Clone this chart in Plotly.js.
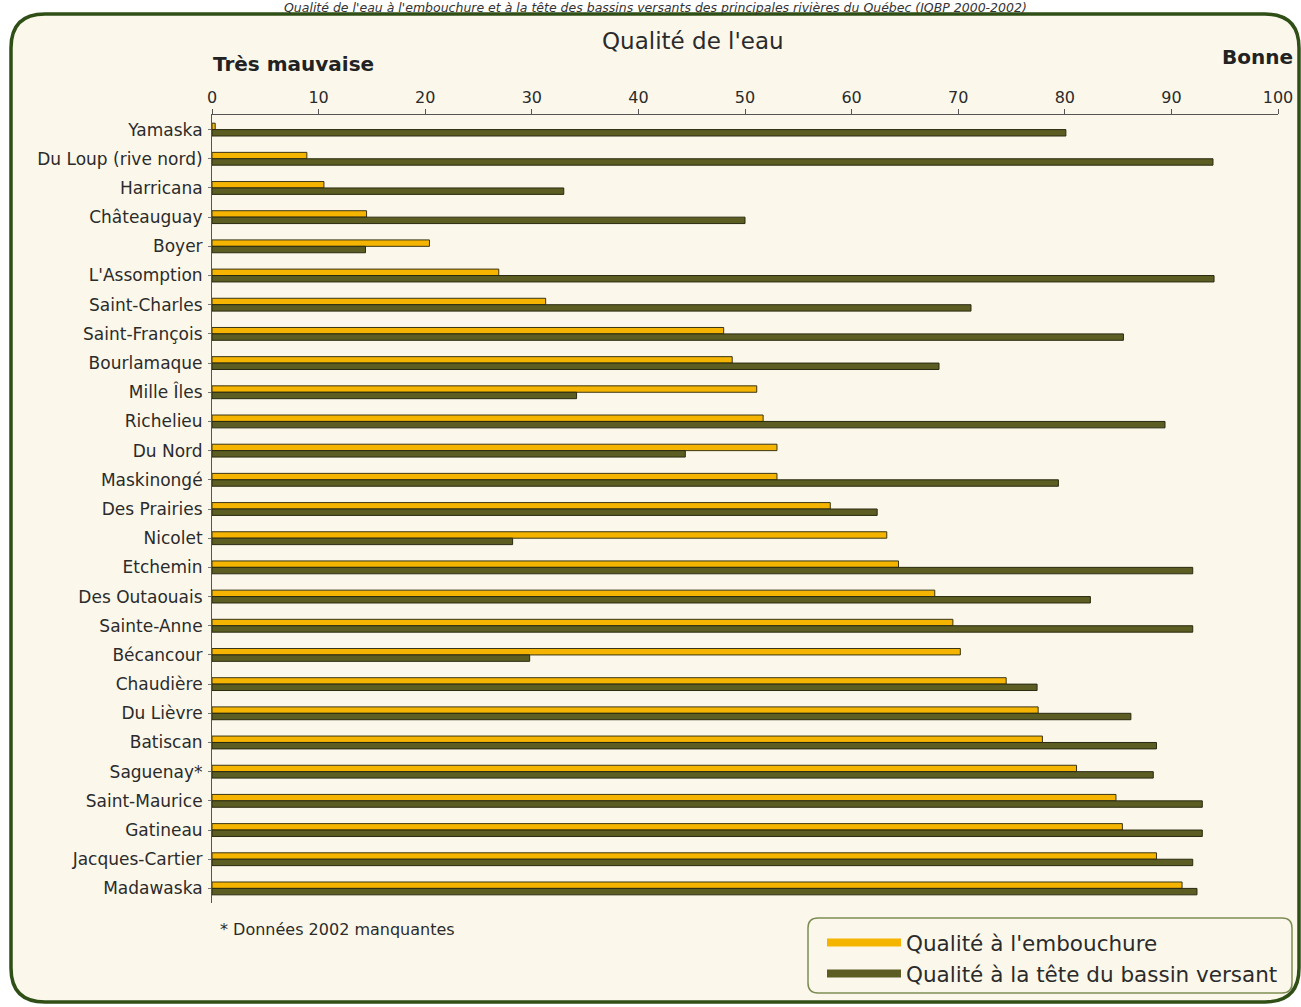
<!DOCTYPE html>
<html>
<head>
<meta charset="utf-8">
<script src="https://cdn.plot.ly/plotly-3.0.1.min.js"></script>
<style>html,body{margin:0;padding:0;background:#fff;}#chart{width:1301px;height:1007px;}</style>
</head>
<body>
<div id="chart"></div>
<script>
// ---- Data ----
const rivers = ["Yamaska","Du Loup (rive nord)","Harricana","Châteauguay","Boyer","L'Assomption","Saint-Charles","Saint-François","Bourlamaque","Mille Îles","Richelieu","Du Nord","Maskinongé","Des Prairies","Nicolet","Etchemin","Des Outaouais","Sainte-Anne","Bécancour","Chaudière","Du Lièvre","Batiscan","Saguenay*","Saint-Maurice","Gatineau","Jacques-Cartier","Madawaska"];
const qualiteEmbouchure = [0.3, 8.9, 10.5, 14.5, 20.4, 26.9, 31.3, 48.0, 48.8, 51.1, 51.7, 53.0, 53.0, 58.0, 63.3, 64.4, 67.8, 69.5, 70.2, 74.5, 77.5, 77.9, 81.1, 84.8, 85.4, 88.6, 91.0];
const qualiteTete = [80.1, 93.9, 33.0, 50.0, 14.4, 94.0, 71.2, 85.5, 68.2, 34.2, 89.4, 44.4, 79.4, 62.4, 28.2, 92.0, 82.4, 92.0, 29.8, 77.4, 86.2, 88.6, 88.3, 92.9, 92.9, 92.0, 92.4];
const seriesNames = ["Qualité à l'embouchure", "Qualité à la tête du bassin versant"];
const xTickVals = [0,10,20,30,40,50,60,70,80,90,100];

// ---- Layout geometry (pixels) ----
const W = 1301, H = 1007;
const M = {l: 212, r: 23, t: 115, b: 104};
const PW = W - M.l - M.r, PH = H - M.t - M.b;
const px = x => (x - M.l) / PW;
const py = y => (H - M.b - y) / PH;

function roundedRect(x0, y0, x1, y1, r) {
  const p = (x, y) => px(x).toFixed(5) + "," + py(y).toFixed(5);
  return "M" + p(x0 + r, y0) + " L" + p(x1 - r, y0) + " Q" + p(x1, y0) + " " + p(x1, y0 + r) +
         " L" + p(x1, y1 - r) + " Q" + p(x1, y1) + " " + p(x1 - r, y1) +
         " L" + p(x0 + r, y1) + " Q" + p(x0, y1) + " " + p(x0, y1 - r) +
         " L" + p(x0, y0 + r) + " Q" + p(x0, y0) + " " + p(x0 + r, y0) + " Z";
}

const FONT = "DejaVu Sans, Verdana, sans-serif";
const TXT = "#2b2b2b";
const YELLOW = "#f5b400", OLIVE = "#5b5d22";

const traces = [
  {type: "bar", orientation: "h", y: rivers, x: qualiteEmbouchure, name: seriesNames[0],
   marker: {color: YELLOW, line: {color: "#3a3514", width: 1}}, showlegend: false, hoverinfo: "x+y"},
  {type: "bar", orientation: "h", y: rivers, x: qualiteTete, name: seriesNames[1],
   marker: {color: OLIVE, line: {color: "#2a2a10", width: 1}}, showlegend: false, hoverinfo: "x+y"},
  {type: "scatter", mode: "lines", x: [null], y: [null], name: seriesNames[0],
   line: {color: YELLOW, width: 8}, showlegend: true, hoverinfo: "skip"},
  {type: "scatter", mode: "lines", x: [null], y: [null], name: seriesNames[1],
   line: {color: OLIVE, width: 8}, showlegend: true, hoverinfo: "skip"}
];

const layout = {
  width: W, height: H,
  margin: M,
  paper_bgcolor: "#ffffff",
  plot_bgcolor: "rgba(0,0,0,0)",
  barmode: "group",
  bargap: 0.56,
  bargroupgap: 0,
  font: {family: FONT, color: TXT, size: 16},
  showlegend: true,
  legend: {
    x: px(822), y: py(922), xanchor: "left", yanchor: "top",
    bgcolor: "rgba(0,0,0,0)", borderwidth: 0,
    font: {family: FONT, size: 21.5, color: TXT},
    itemwidth: 74, tracegroupgap: 0
  },
  xaxis: {
    side: "top", range: [0, 100], tickvals: xTickVals, ticktext: xTickVals.map(String),
    showline: true, linecolor: "#555", linewidth: 1, ticks: "outside", ticklen: 5, tickcolor: "#555",
    showgrid: false, zeroline: false, tickfont: {family: FONT, size: 16, color: TXT}, fixedrange: true
  },
  yaxis: {
    type: "category", autorange: "reversed",
    showline: true, linecolor: "#555", linewidth: 1, ticks: "outside", ticklen: 3, tickcolor: "#777",
    showgrid: false, zeroline: false, tickfont: {family: FONT, size: 17, color: TXT}, ticklabelstandoff: 2, fixedrange: true
  },
  shapes: [
    {type: "path", xref: "paper", yref: "paper", layer: "below",
     path: roundedRect(11, 14, 1299, 1002, 34),
     fillcolor: "#fbf8eb", line: {color: "#2f4f17", width: 3.5}},
    {type: "path", xref: "paper", yref: "paper", layer: "below",
     path: roundedRect(808, 918, 1292, 993, 10),
     fillcolor: "#fbf8eb", line: {color: "#7d8c55", width: 1.5}}
  ],
  annotations: [
    {text: "<i>Qualité de l'eau à l'embouchure et à la tête des bassins versants des principales rivières du Québec (IQBP 2000-2002)</i>",
     xref: "paper", yref: "paper", x: px(655), y: py(-1), xanchor: "center", yanchor: "top",
     showarrow: false, borderpad: 0, font: {family: FONT, size: 12.5, color: "#333"}},
    {text: "Qualité de l'eau", xref: "paper", yref: "paper", x: px(693), y: py(41),
     xanchor: "center", yanchor: "middle", showarrow: false, font: {family: FONT, size: 23, color: TXT}},
    {text: "<b>Très mauvaise</b>", xref: "paper", yref: "paper", x: px(211), y: py(64),
     xanchor: "left", yanchor: "middle", showarrow: false, font: {family: FONT, size: 20, color: "#222"}},
    {text: "<b>Bonne</b>", xref: "paper", yref: "paper", x: px(1295), y: py(57),
     xanchor: "right", yanchor: "middle", showarrow: false, font: {family: FONT, size: 20, color: "#222"}},
    {text: "* Données 2002 manquantes", xref: "paper", yref: "paper", x: px(218), y: py(929),
     xanchor: "left", yanchor: "middle", showarrow: false, font: {family: FONT, size: 16, color: TXT}}
  ]
};

Plotly.newPlot("chart", traces, layout, {displayModeBar: false, staticPlot: true});
</script>
</body>
</html>
